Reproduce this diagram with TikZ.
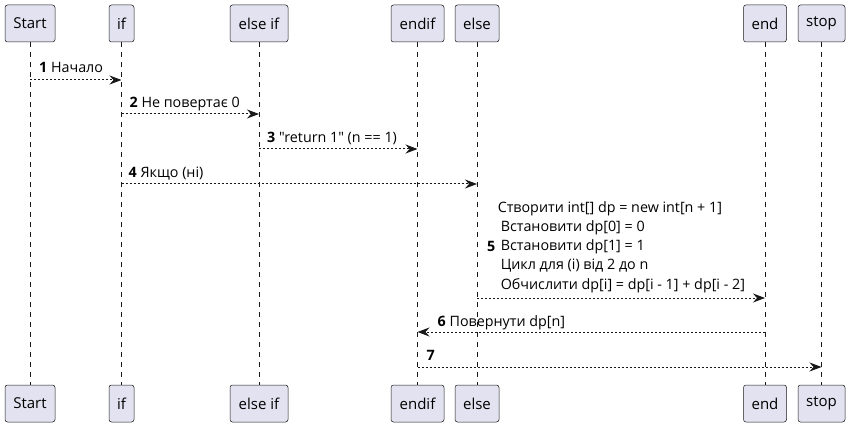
\documentclass[tikz,border=0pt]{standalone}
\usepackage{fontspec}
\setmainfont{Open Sans}[Ligatures=TeXOff]
\usetikzlibrary{arrows.meta}
\definecolor{PartFill}{HTML}{E2E2F0}
\definecolor{PartLine}{HTML}{181818}

\begin{document}
\begin{tikzpicture}[x=1pt,y=-1pt,
  part/.style={draw=PartLine,fill=PartFill,line width=.5pt,rounded corners=2.5pt,
    minimum height=37,inner sep=0pt,font=\fontsize{15}{17}\selectfont},
  life/.style={draw=PartLine,line width=.5pt,dash pattern=on 5pt off 5pt},
  msg/.style={draw=PartLine,line width=1pt,dash pattern=on 2pt off 2pt,
    -{Stealth[length=12pt,width=9pt,inset=4pt]}},
  lbl/.style={anchor=base west,inner sep=0pt,font=\fontsize{14.3}{19.3}\selectfont}]
  \useasboundingbox (0,0) rectangle (850,427);
  % participants, top and bottom, with their lifelines
  \foreach \n/\x/\w/\t in {start/30/50/Start,if/121.5/25/if,elif/259/58/else if,
      endif/417.5/53/endif,else/477/44/else,end/765/43/end,stop/821.5/47/stop}{
    \node[part,minimum width=\w] (\n) at (\x,23.5) {\t};
    \node[part,minimum width=\w] (\n-b) at (\x,403.5) {\t};
    \draw[life] (\n) -- (\n-b);
  }
  % message rows
  \coordinate (m1) at (0,80);  \coordinate (m2) at (0,114);
  \coordinate (m3) at (0,149); \coordinate (m4) at (0,184);
  \coordinate (m5) at (0,298); \coordinate (m6) at (0,332);
  \coordinate (m7) at (0,367);
  \draw[msg] (start |- m1) -- (if |- m1);
  \path (start |- m1) ++(9,-7) node[lbl] (l1) {\textbf{1} Начало};
  \draw[msg] (if |- m2) -- (elif |- m2);
  \path (if |- m2) ++(8,-6) node[lbl] (l2) {\textbf{2} Не повертає 0};
  \draw[msg] (elif |- m3) -- (endif |- m3);
  \path (elif |- m3) ++(8,-6) node[lbl] (l3) {\textbf{3} "return 1" (n == 1)};
  \draw[msg] (if |- m4) -- (else |- m4);
  \path (if |- m4) ++(7,-6) node[lbl] (l4) {\textbf{4} Якщо (ні)};
  \draw[msg] (else |- m5) -- (end |- m5);
  \path (else |- m5) ++(10,-46) node[lbl] (l5) {\textbf{5}};
  \node[lbl,anchor=west,align=left] (l5t) at ([xshift=5pt]l5.east)
    {\kern-3pt Створити int[] dp = new int[n + 1]\\ Встановити dp[0] = 0\\
     Встановити dp[1] = 1\\ Цикл для (i) від 2 до n\\
     Обчислити dp[i] = dp[i - 1] + dp[i - 2]};
  \draw[msg] (end |- m6) -- (endif |- m6);
  \path (endif |- m6) ++(20,-6) node[lbl] (l6) {\textbf{6} Повернути dp[n]};
  \draw[msg] (endif |- m7) -- (stop |- m7);
  \path (endif |- m7) ++(9,-7) node[lbl] (l7) {\textbf{7}};
\end{tikzpicture}
\end{document}
